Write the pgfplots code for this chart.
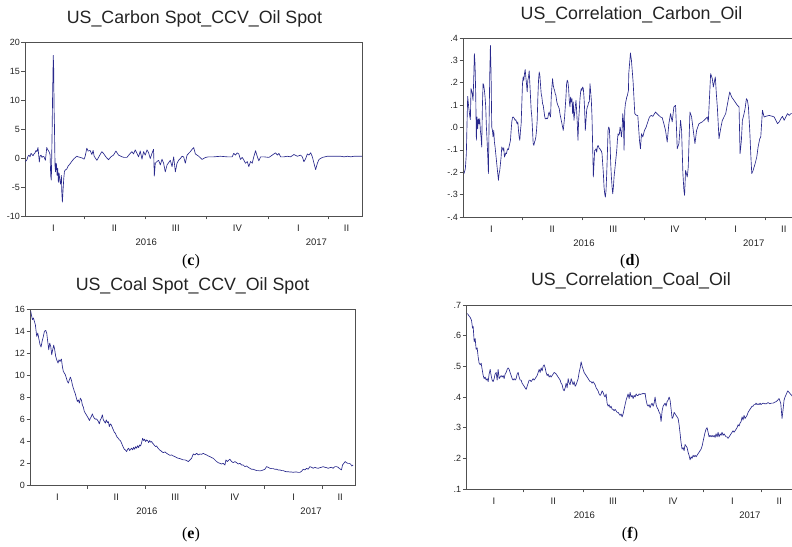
\documentclass[border=0pt]{standalone}
\usepackage{pgfplots}
\usepackage{pgfplotstable}
\pgfplotsset{compat=1.18}
\usepackage{fontspec}
\setmainfont{Liberation Sans}
\newfontfamily\capfont{Liberation Serif}

\definecolor{evblue}{RGB}{40,40,140}
\definecolor{evaxis}{RGB}{80,80,80}
\definecolor{evtext}{RGB}{35,35,35}

% x = days since 1 Jan 2016
\pgfplotstableread{
day val
3.7 -0.6
6.0 -0.3
7.5 0.3
9.0 0.5
10.5 0.2
12.0 0.8
13.5 0.6
15.0 0.4
16.5 0.7
18.0 0.9
19.4 1.3
20.9 1.1
22.4 1.8
24.4 -0.7
25.4 0.3
26.9 0.5
28.4 0.1
29.9 0.3
31.4 0.2
33.4 -0.4
34.4 0.6
35.5 1.8
36.6 1.5
37.8 1.3
39.2 1.0
40.4 0.6
41.4 -3.1
42.3 -3.8
43.4 4.0
44.1 10.0
45.2 17.7
45.8 15.5
46.4 8.5
46.9 6.0
47.5 1.0
47.9 -1.5
48.6 -2.4
49.4 -0.9
50.1 -1.2
50.9 -3.0
51.9 -1.8
52.8 -4.2
53.9 -2.6
54.9 -3.8
56.1 -4.5
57.3 -3.0
58.0 -6.1
58.8 -7.6
59.8 -5.5
60.9 -3.5
61.8 -2.4
62.8 -2.1
65.4 -1.9
67.3 -1.4
70.3 -1.0
73.3 -0.5
76.3 -0.1
80.3 0.3
82.3 0.2
85.3 0.1
88.3 0.0
91.3 -0.2
92.8 0.3
95.3 1.7
97.2 1.2
100.2 1.3
102.8 0.6
104.7 1.3
106.2 0.3
110.3 -0.4
113.7 0.3
117.7 1.1
120.1 0.8
123.7 0.2
127.6 -0.3
131.2 0.2
135.1 0.5
138.7 1.2
142.6 0.5
147.7 0.2
151.1 0.1
155.1 0.1
160.1 0.8
162.6 1.1
165.0 0.7
167.6 1.4
170.1 0.8
172.5 0.2
175.0 1.2
177.6 -0.2
180.0 1.1
182.5 0.5
185.1 1.4
187.5 0.9
190.0 -0.1
192.5 0.8
194.9 1.5
196.0 -3.1
197.5 -0.9
200.0 -0.6
202.4 -0.4
205.0 -1.2
207.5 -0.2
209.9 -0.9
212.4 -2.4
215.0 -1.2
217.4 -0.8
219.9 -0.4
222.5 -1.5
224.9 0.2
227.4 -2.4
229.9 -0.9
232.3 -0.4
234.9 -0.1
237.4 0.3
239.8 0.2
242.3 -0.9
244.9 0.5
247.3 0.8
249.8 1.1
252.4 1.5
254.8 1.8
257.3 0.7
262.3 0.3
267.3 -0.25
272.3 0.1
277.2 0.2
284.7 0.2
294.7 0.3
304.7 0.2
312.2 0.2
314.6 0.8
317.2 0.5
319.7 0.9
322.1 0.7
324.6 -0.25
327.2 0.1
329.6 -0.35
332.1 -0.9
334.7 -0.6
337.1 -1.5
339.6 -0.6
342.1 -0.9
344.5 0.2
347.1 1.25
349.6 0.3
352.0 -0.5
354.6 0.2
359.5 0.2
367.0 0.1
372.1 0.5
377.0 0.9
379.6 0.5
381.9 0.8
384.5 0.2
389.4 0.2
394.5 0.3
399.4 0.2
404.4 0.6
409.5 0.3
414.4 0.5
416.9 0.2
419.3 -0.65
421.9 -0.1
424.4 0.7
426.8 0.5
429.4 0.9
431.9 0.2
434.3 -0.9
436.8 -2.0
439.4 -0.9
441.8 -0.25
446.9 0.1
454.3 0.3
464.2 0.3
474.2 0.3
479.2 0.2
484.3 0.3
489.2 0.2
494.1 0.3
499.2 0.3
504.2 0.3
506.7 0.3
}\datac

\pgfplotstableread{
day val
4.5 -0.206
6.5 -0.184
8.0 -0.117
9.0 0.017
10.0 0.139
11.5 0.092
13.0 0.054
14.0 0.035
15.0 0.174
16.5 0.159
18.0 0.121
19.0 0.211
20.0 0.330
21.0 0.285
22.0 0.151
23.0 -0.057
24.0 0.047
25.0 -0.005
26.0 0.039
27.0 0.017
28.0 0.039
29.0 -0.013
30.0 -0.042
31.0 -0.087
32.0 0.092
33.0 0.196
34.0 0.189
35.0 0.166
36.0 0.136
37.0 0.092
38.0 0.002
39.0 -0.057
40.0 -0.124
41.0 -0.206
42.0 0.017
43.0 0.233
44.0 0.367
45.0 0.241
46.0 0.002
47.0 -0.013
48.0 -0.042
49.0 -0.013
50.0 -0.065
51.0 -0.087
52.0 -0.117
53.0 -0.147
54.0 -0.177
55.0 -0.206
56.0 -0.236
57.0 -0.206
58.0 -0.192
59.0 -0.162
60.0 -0.132
61.0 -0.087
62.0 -0.095
63.0 -0.102
64.0 -0.090
65.0 -0.132
66.0 -0.124
67.0 -0.114
68.0 -0.117
69.0 -0.102
70.0 -0.095
71.0 -0.099
72.0 -0.084
73.0 -0.072
74.0 -0.057
75.0 -0.013
76.0 0.025
77.0 0.044
78.0 0.047
79.0 0.044
80.0 0.039
81.0 0.032
82.0 0.035
83.0 0.025
84.0 0.017
85.0 0.025
86.0 -0.013
87.0 -0.042
88.0 -0.057
89.0 -0.013
90.0 0.017
91.0 0.107
92.0 0.196
93.0 0.226
94.0 0.211
95.0 0.241
96.0 0.259
97.0 0.226
98.0 0.196
99.0 0.159
100.0 0.211
101.0 0.226
102.0 0.253
103.0 0.196
104.0 0.136
105.0 0.077
106.0 0.047
107.0 -0.013
108.0 -0.072
109.0 -0.080
110.0 -0.065
111.0 -0.057
112.0 -0.042
113.0 -0.013
114.0 0.032
115.0 0.136
116.0 0.211
117.0 0.248
118.0 0.233
119.0 0.189
120.0 0.151
121.0 0.136
122.0 0.107
123.0 0.099
124.0 0.077
125.0 0.054
126.0 0.039
127.0 0.039
128.0 0.042
129.0 0.039
130.0 0.044
131.0 0.062
132.0 0.069
133.0 0.054
134.0 0.047
135.0 0.136
136.0 0.181
137.0 0.218
138.0 0.189
139.0 0.174
140.0 0.166
141.0 0.151
142.0 0.144
143.0 0.121
144.0 0.107
145.0 0.099
146.0 0.092
147.0 0.084
148.0 0.062
149.0 0.047
150.0 0.032
151.0 0.017
152.0 0.002
153.0 -0.013
154.0 0.017
155.0 0.047
156.0 0.092
157.0 0.136
158.0 0.196
159.0 0.211
160.0 0.203
161.0 0.174
162.0 0.121
163.0 0.092
164.0 0.136
165.0 0.114
166.0 0.129
167.0 0.062
168.0 0.114
169.0 0.032
170.0 0.062
171.0 0.092
172.0 0.121
173.0 0.077
174.0 0.017
175.0 -0.057
176.0 0.032
177.0 0.077
178.0 0.129
179.0 0.159
180.0 0.174
181.0 0.166
182.0 0.181
183.0 0.174
184.0 0.136
185.0 0.077
186.0 -0.013
187.0 0.032
188.0 0.077
189.0 0.092
190.0 0.099
191.0 0.114
192.0 0.114
193.0 0.196
194.0 0.159
195.0 0.121
196.0 0.047
197.0 -0.087
198.0 -0.221
199.0 -0.162
200.0 -0.102
201.0 -0.102
202.0 -0.095
203.0 -0.110
204.0 -0.087
205.0 -0.080
206.0 -0.087
207.0 -0.095
208.0 -0.095
209.0 -0.102
210.0 -0.105
211.0 -0.117
212.0 -0.162
213.0 -0.206
214.0 -0.266
215.0 -0.296
216.0 -0.311
217.0 -0.281
218.0 -0.206
219.0 -0.117
220.0 -0.013
221.0 0.002
222.0 -0.005
223.0 -0.072
224.0 -0.162
225.0 -0.221
226.0 -0.266
227.0 -0.296
228.0 -0.266
229.0 -0.221
230.0 -0.192
231.0 -0.162
232.0 -0.132
233.0 -0.102
234.0 -0.057
235.0 -0.028
236.0 -0.035
237.0 -0.028
238.0 0.002
239.0 -0.013
240.0 -0.042
241.0 -0.013
242.0 0.062
243.0 0.032
244.0 -0.102
245.0 0.077
246.0 0.107
247.0 0.121
248.0 0.136
249.0 0.144
250.5 0.166
251.0 0.241
253.5 0.333
255.0 0.300
257.5 0.203
260.0 0.062
262.5 0.054
264.5 0.054
267.0 -0.057
268.5 -0.095
270.0 -0.028
272.0 -0.042
274.5 -0.013
277.0 0.002
279.5 0.025
282.0 0.047
284.5 0.054
287.0 0.050
291.0 0.069
296.0 0.054
298.5 0.047
301.0 0.044
303.5 0.017
306.0 -0.013
308.5 -0.065
311.0 0.017
313.5 0.062
316.0 0.025
318.5 0.092
321.0 0.099
322.5 -0.013
323.5 -0.095
326.0 -0.072
328.5 0.032
330.0 -0.013
332.0 -0.206
333.5 -0.281
334.5 -0.303
336.0 -0.192
338.5 -0.221
340.0 -0.177
342.5 0.069
345.0 0.047
347.5 -0.013
350.0 -0.072
352.5 -0.013
356.0 0.017
361.0 0.025
366.0 0.039
368.5 0.047
370.0 0.025
373.5 0.241
376.0 0.218
377.5 0.181
380.5 0.226
382.0 0.151
383.5 0.092
386.0 -0.050
388.5 -0.005
391.0 0.032
396.0 0.062
402.0 0.159
405.0 0.136
408.5 0.121
413.5 0.099
416.0 0.092
417.5 -0.117
419.5 -0.057
421.0 0.032
423.5 0.062
425.0 0.084
427.0 0.129
428.5 0.121
430.0 0.092
432.0 -0.013
433.5 -0.117
435.0 -0.206
437.0 -0.192
440.0 -0.162
442.5 -0.132
444.5 -0.087
447.0 -0.050
448.5 -0.042
451.0 0.077
453.5 0.047
456.0 0.050
461.0 0.054
466.0 0.050
468.5 0.047
471.0 0.032
473.5 0.017
476.0 0.025
478.5 0.039
481.0 0.050
483.5 0.032
486.0 0.047
488.5 0.062
491.0 0.054
493.5 0.062
496.0 0.062
500.0 0.060
506.0 0.060
}\datad

\pgfplotstableread{
day val
4.1 15.79
6.7 15.03
8.3 15.18
9.8 14.88
11.3 14.57
13.4 13.51
15.0 13.81
17.0 13.21
18.6 12.75
20.1 12.54
21.7 13.05
23.7 13.51
25.3 13.97
27.3 14.06
28.9 13.81
30.4 13.05
32.0 12.30
33.5 12.90
35.1 12.60
36.6 11.84
38.1 12.30
39.7 12.72
41.2 12.30
42.8 11.69
44.3 11.38
46.4 11.08
47.9 11.38
49.5 11.23
51.6 11.45
53.1 10.78
54.6 10.32
56.2 10.17
57.7 10.02
59.3 9.72
60.8 9.41
62.4 9.26
63.9 9.56
65.5 9.81
67.0 9.56
68.6 9.11
70.1 8.80
71.7 8.50
73.2 8.29
74.8 7.89
76.3 7.59
77.8 7.74
79.4 7.44
80.9 7.89
82.5 7.74
84.0 7.29
85.6 7.07
87.1 6.68
88.7 6.53
90.2 6.38
91.8 6.22
93.3 6.07
94.9 5.86
96.4 6.07
97.9 6.22
99.5 6.47
101.0 6.22
102.6 6.07
104.1 5.98
105.7 6.01
107.2 5.92
108.8 5.77
110.3 5.56
111.9 5.92
113.4 6.07
115.0 6.38
116.5 5.92
118.1 5.77
119.6 5.62
121.1 5.92
122.7 5.68
124.2 5.77
125.8 5.31
127.3 5.56
128.9 5.46
130.4 5.22
132.0 5.01
133.5 4.80
135.1 4.71
136.6 4.49
138.2 4.31
139.7 4.25
141.3 4.10
142.8 4.04
144.3 3.86
145.9 3.64
147.4 3.43
149.0 3.25
150.5 3.19
152.6 3.04
154.1 3.25
155.7 3.34
157.2 3.13
158.8 3.25
160.3 3.34
161.9 3.19
163.4 3.43
165.0 3.25
166.5 3.49
168.1 3.34
169.6 3.58
171.1 3.40
172.7 3.64
174.2 3.55
175.8 3.86
177.3 4.25
178.9 4.04
180.4 4.16
182.0 3.95
183.5 4.10
185.1 4.04
186.6 3.86
188.2 4.04
189.7 3.89
191.3 3.95
192.8 3.80
194.3 3.70
195.9 3.58
197.4 3.49
199.0 3.55
200.5 3.40
202.1 3.28
203.6 3.19
205.2 3.13
206.7 3.04
209.3 2.94
211.9 3.01
214.5 2.88
217.0 2.79
219.6 2.70
222.2 2.73
224.8 2.64
227.3 2.58
229.9 2.49
232.5 2.43
235.1 2.40
237.6 2.34
240.2 2.28
242.8 2.28
245.4 2.22
248.0 2.13
250.5 2.28
253.1 2.43
255.7 2.82
258.3 2.73
260.9 2.88
263.4 2.73
266.0 2.82
268.6 2.79
271.2 2.88
273.7 2.79
276.3 2.73
278.9 2.64
281.5 2.58
284.0 2.49
286.6 2.43
289.2 2.28
291.8 2.13
294.4 2.03
296.9 1.97
299.5 1.91
302.1 1.97
304.7 1.82
306.2 2.28
308.3 2.13
309.8 2.22
312.4 2.34
315.0 2.13
317.6 2.03
320.1 2.13
322.7 2.03
325.3 1.91
327.9 1.97
330.4 1.82
333.0 1.82
335.6 1.67
338.2 1.73
340.7 1.61
343.3 1.52
345.9 1.43
348.5 1.43
351.1 1.37
353.6 1.31
356.2 1.31
358.8 1.28
361.4 1.31
363.9 1.37
366.5 1.43
369.1 1.67
371.7 1.61
374.3 1.52
376.8 1.49
379.4 1.49
382.0 1.43
384.6 1.43
387.1 1.37
389.7 1.37
392.3 1.31
394.9 1.31
397.5 1.24
400.0 1.21
402.6 1.21
405.2 1.18
407.8 1.18
410.3 1.15
412.9 1.18
415.5 1.18
418.1 1.15
420.7 1.15
423.2 1.24
425.8 1.43
428.4 1.37
431.0 1.52
433.5 1.43
436.1 1.67
438.7 1.61
441.3 1.52
443.8 1.61
446.4 1.55
449.0 1.52
451.6 1.58
454.2 1.61
456.7 1.67
459.3 1.61
461.9 1.58
464.5 1.52
467.1 1.58
469.6 1.61
472.2 1.52
474.8 1.67
477.4 1.67
479.9 1.61
481.5 1.52
483.6 1.43
485.1 1.37
486.7 1.82
488.7 1.97
490.8 2.13
492.8 2.03
494.9 1.97
497.0 1.97
499.0 1.91
501.1 1.73
503.1 1.82
}\datae

\pgfplotstableread{
day val
4.8 0.672
6.9 0.665
8.9 0.660
11.0 0.650
12.5 0.625
13.5 0.630
15.1 0.580
16.6 0.590
18.1 0.555
19.7 0.560
21.2 0.530
22.7 0.510
24.3 0.505
25.8 0.510
27.3 0.490
28.9 0.470
30.4 0.460
31.9 0.465
33.5 0.455
35.0 0.460
36.5 0.450
38.0 0.475
39.6 0.490
41.1 0.470
42.6 0.455
44.2 0.450
45.7 0.460
47.2 0.475
48.8 0.480
50.3 0.455
51.8 0.490
53.4 0.460
54.9 0.465
56.4 0.470
58.0 0.465
59.5 0.470
61.0 0.460
62.6 0.475
64.1 0.480
65.6 0.490
67.2 0.495
68.7 0.490
70.2 0.480
71.8 0.470
73.3 0.460
74.8 0.455
76.4 0.460
77.9 0.455
79.4 0.460
81.0 0.475
82.5 0.480
84.0 0.465
85.6 0.455
87.1 0.455
88.6 0.445
90.2 0.440
91.7 0.435
93.2 0.430
94.8 0.425
96.3 0.435
97.8 0.445
99.4 0.455
100.9 0.455
102.4 0.450
104.0 0.455
105.5 0.460
107.0 0.455
108.6 0.460
110.1 0.465
111.6 0.470
113.2 0.480
114.7 0.490
116.2 0.480
117.8 0.495
119.3 0.485
120.8 0.500
122.4 0.505
123.9 0.495
125.4 0.480
127.0 0.470
128.5 0.475
130.0 0.465
131.6 0.470
133.1 0.465
134.6 0.470
136.2 0.475
137.7 0.480
139.2 0.478
140.8 0.475
142.3 0.470
143.8 0.465
145.4 0.460
146.9 0.455
148.4 0.445
150.0 0.440
151.5 0.425
153.0 0.420
154.6 0.430
156.1 0.445
157.6 0.430
159.2 0.460
160.7 0.445
162.2 0.440
163.8 0.460
165.3 0.450
166.8 0.440
168.4 0.450
169.9 0.435
171.4 0.440
173.0 0.450
174.5 0.460
176.0 0.480
177.6 0.495
179.1 0.515
180.6 0.500
182.2 0.490
183.7 0.480
185.2 0.475
186.8 0.470
188.3 0.465
189.8 0.460
191.3 0.455
192.9 0.450
194.4 0.450
195.9 0.445
197.5 0.450
199.0 0.445
200.5 0.440
202.1 0.430
203.6 0.425
205.1 0.420
206.7 0.410
208.2 0.405
209.7 0.410
211.3 0.420
212.8 0.415
214.3 0.405
215.9 0.400
217.4 0.410
218.9 0.380
220.5 0.370
222.0 0.375
223.5 0.365
225.1 0.370
226.6 0.360
228.1 0.360
229.7 0.355
231.2 0.360
232.7 0.355
234.3 0.350
235.8 0.350
237.3 0.345
238.9 0.340
240.4 0.345
241.9 0.335
243.5 0.345
245.0 0.360
246.5 0.375
248.1 0.390
249.6 0.400
251.1 0.410
252.7 0.395
254.2 0.415
255.7 0.400
257.3 0.405
258.8 0.395
260.3 0.405
261.9 0.400
263.4 0.410
264.9 0.405
266.5 0.405
268.0 0.410
269.5 0.408
271.1 0.410
272.6 0.410
274.1 0.412
275.7 0.410
277.2 0.412
278.7 0.390
280.3 0.375
281.8 0.370
283.3 0.375
284.9 0.365
286.4 0.375
287.9 0.380
289.5 0.370
291.0 0.380
292.5 0.400
294.1 0.375
295.6 0.365
297.1 0.360
298.7 0.350
300.2 0.345
301.7 0.320
303.3 0.355
304.8 0.370
306.3 0.375
307.9 0.380
309.4 0.370
310.9 0.385
312.5 0.390
314.0 0.400
315.5 0.390
317.1 0.360
318.6 0.330
320.1 0.335
321.7 0.350
323.2 0.345
324.7 0.340
326.3 0.335
327.8 0.330
329.3 0.310
330.9 0.280
332.4 0.250
333.9 0.230
335.5 0.235
337.0 0.225
338.5 0.245
340.1 0.240
341.6 0.235
343.1 0.220
344.6 0.210
346.2 0.195
347.7 0.205
349.2 0.200
350.8 0.210
352.3 0.205
353.8 0.210
355.4 0.205
356.9 0.210
358.4 0.215
360.0 0.220
361.5 0.225
363.0 0.230
364.6 0.240
366.1 0.255
367.6 0.270
369.2 0.285
370.7 0.295
372.2 0.300
373.8 0.285
375.3 0.270
376.8 0.275
378.4 0.270
379.9 0.275
381.4 0.270
383.0 0.275
384.5 0.268
386.0 0.280
387.6 0.270
389.1 0.285
390.6 0.270
392.2 0.280
393.7 0.275
395.2 0.285
396.8 0.275
398.3 0.280
399.8 0.275
401.4 0.270
402.9 0.270
404.4 0.265
406.0 0.270
407.5 0.275
409.0 0.280
410.6 0.285
412.1 0.290
413.6 0.285
415.2 0.290
416.7 0.295
418.2 0.300
419.8 0.310
421.3 0.305
422.8 0.315
424.4 0.320
425.9 0.335
427.4 0.325
428.9 0.340
430.5 0.330
432.0 0.335
433.5 0.340
435.1 0.350
436.6 0.355
438.1 0.360
439.7 0.365
441.2 0.370
442.7 0.370
444.3 0.375
445.8 0.375
447.3 0.380
448.9 0.375
450.4 0.378
451.9 0.375
453.5 0.380
455.0 0.375
456.5 0.378
458.1 0.380
460.6 0.378
463.2 0.378
465.8 0.382
468.3 0.378
470.9 0.380
473.4 0.380
476.0 0.383
478.5 0.385
480.6 0.390
482.6 0.395
485.2 0.380
487.2 0.330
488.8 0.360
490.3 0.390
491.8 0.400
493.9 0.410
495.9 0.420
498.0 0.415
500.0 0.410
502.0 0.405
504.1 0.400
506.1 0.400
}\dataf

\pgfplotsset{
  evstyle/.style={
    scale only axis,
    anchor=south west,
    xmin=3, xmax=506,
    axis line style={evaxis, line width=0.6pt},
    tick style={evaxis, line width=0.6pt},
    tick align=outside,
    tick pos=left,
    major tick length=3.5pt,
    xtick={91,182,274,366,456},
    xticklabels={},
    yticklabel style={font=\fontsize{9}{10}\selectfont, text=evtext, inner sep=1.5pt},
    clip mode=individual,
  },
}
\tikzset{
  qlab/.style={anchor=base, inner sep=0pt, yshift=-15.1pt,
    font=\fontsize{9.5}{11}\selectfont, text=evtext},
  ylab/.style={anchor=base, inner sep=0pt, yshift=-29.6pt,
    font=\fontsize{9.5}{11}\selectfont, text=evtext},
}

\newcommand{\xlabs}[1]{%
  \node[qlab] at (axis cs:45.5,#1) {I};
  \node[qlab] at (axis cs:136.5,#1) {II};
  \node[qlab] at (axis cs:228,#1) {III};
  \node[qlab] at (axis cs:320,#1) {IV};
  \node[qlab] at (axis cs:411,#1) {I};
  \node[qlab] at (axis cs:483,#1) {II};
  \node[ylab] at (axis cs:184,#1) {2016};
  \node[ylab] at (axis cs:438,#1) {2017};
}

\begin{document}
\begin{tikzpicture}
\useasboundingbox (0pt,0pt) rectangle (792pt,546pt);
\clip (0pt,0pt) rectangle (792pt,546pt);

% (c)
\begin{axis}[evstyle, at={(25pt,330pt)}, width=337pt, height=174pt,
  ymin=-10, ymax=20, ytick={-10,-5,0,5,10,15,20},
  yticklabels={-10,-5,0,5,10,15,20}]
  \addplot[evblue, line width=0.65pt, line join=round, mark=none] table[x=day, y=val] {\datac};
  \xlabs{-10}
\end{axis}

% (d)
\begin{axis}[evstyle, at={(463pt,329pt)}, width=336.2pt, height=179pt,
  ymin=-0.4, ymax=0.4, ytick={-0.4,-0.3,-0.2,-0.1,0,0.1,0.2,0.3,0.4},
  yticklabels={-.4,-.3,-.2,-.1,.0,.1,.2,.3,.4}]
  \addplot[evblue, line width=0.65pt, line join=round, mark=none] table[x=day, y=val] {\datad};
  \xlabs{-0.4}
\end{axis}

% (e)
\begin{axis}[evstyle, at={(30pt,61pt)}, width=325pt, height=176pt,
  ymin=0, ymax=16, ytick={0,2,4,6,8,10,12,14,16},
  yticklabels={0,2,4,6,8,10,12,14,16}]
  \addplot[evblue, line width=0.65pt, line join=round, mark=none] table[x=day, y=val] {\datae};
  \xlabs{0}
\end{axis}

% (f)
\begin{axis}[evstyle, at={(466.3pt,57pt)}, width=328pt, height=184pt,
  ymin=0.1, ymax=0.7, ytick={0.1,0.2,0.3,0.4,0.5,0.6,0.7},
  yticklabels={.1,.2,.3,.4,.5,.6,.7}]
  \addplot[evblue, line width=0.65pt, line join=round, mark=none] table[x=day, y=val] {\dataf};
  \xlabs{0.1}
\end{axis}

% titles
\begin{scope}[every node/.style={anchor=base, inner sep=0pt, text=evtext,
    font=\fontsize{17.8}{20}\selectfont}]
  \node at (194.5pt,522pt) {US\_Carbon Spot\_CCV\_Oil Spot};
  \node at (631.5pt,526.7pt) {US\_Correlation\_Carbon\_Oil};
  \node at (192.5pt,255pt) {US\_Coal Spot\_CCV\_Oil Spot};
  \node at (631pt,260pt) {US\_Correlation\_Coal\_Oil};
\end{scope}

% panel captions
\begin{scope}[every node/.style={inner sep=0pt, text=black,
    font=\capfont\fontsize{16}{18}\selectfont}]
  \node at (191pt,284pt) {(\textbf{c})};
  \node at (630pt,284.3pt) {(\textbf{d})};
  \node at (191pt,11pt) {(\textbf{e})};
  \node at (630pt,11.7pt) {(\textbf{f})};
\end{scope}
\end{tikzpicture}
\end{document}
